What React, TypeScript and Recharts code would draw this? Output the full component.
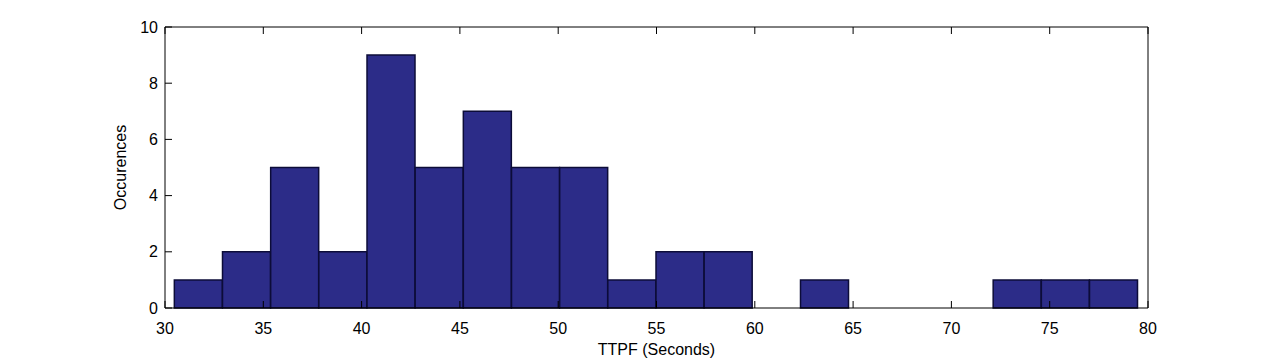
import { Bar, ComposedChart, Label, XAxis, YAxis } from "recharts";

// histogram bin centres (seconds) and counts per bin
const binCenters = [31.7, 34.15, 36.6, 39.05, 41.5, 43.95, 46.4, 48.85, 51.3, 53.75, 56.2, 58.65, 61.1, 63.55, 66.0, 68.45, 70.9, 73.35, 75.8, 78.25];
const counts = [1, 2, 5, 2, 9, 5, 7, 5, 5, 1, 2, 2, 0, 1, 0, 0, 0, 1, 1, 1];
const xTicks = [30, 35, 40, 45, 50, 55, 60, 65, 70, 75, 80];
const yTicks = [0, 2, 4, 6, 8, 10];

const data = binCenters.map((c, i) => ({ center: c, count: counts[i] }));

const FONT = "'Liberation Sans', Arial, sans-serif";
const TICK_LEN = 7;
const X_MARGIN = 15;
const Y_MARGIN = 7;

// MATLAB-style ticks: drawn inward from the axis line, label outside
function makeTick(orient: "bottom" | "top" | "left" | "right", label: boolean, margin: number) {
  return (props: any) => {
    const { x, y, payload } = props;
    let line: [number, number, number, number];
    if (orient === "bottom") line = [x, y - margin, x, y - margin - TICK_LEN];
    else if (orient === "top") line = [x, y + margin, x, y + margin + TICK_LEN];
    else if (orient === "left") line = [x + margin, y, x + margin + TICK_LEN, y];
    else line = [x - margin, y, x - margin - TICK_LEN, y];
    return (
      <g>
        <line x1={line[0]} y1={line[1]} x2={line[2]} y2={line[3]} stroke="#000" strokeWidth={1} />
        {label && (
          <text x={x} y={y} textAnchor={orient === "left" ? "end" : "middle"}
            dy={orient === "bottom" ? "0.71em" : "0.355em"} fontSize={16} fontFamily={FONT} fill="#000">
            {payload.value}
          </text>
        )}
      </g>
    );
  };
}

function YTitle({ viewBox }: any) {
  const cx = viewBox.x + viewBox.width - 45;
  const cy = viewBox.y + viewBox.height / 2;
  return (
    <text x={cx} y={cy} transform={`rotate(-90, ${cx}, ${cy})`} textAnchor="middle" dominantBaseline="central"
      fontSize={16} fontFamily={FONT} fill="#000">
      Occurences
    </text>
  );
}

export default function App() {
  return (
    <div style={{ position: "absolute", left: 0, top: 0, width: 1268, height: 359, background: "#fff" }}>
      <ComposedChart width={1268} height={359} data={data} margin={{ top: 26, right: 119, bottom: 0, left: 0 }}
        barCategoryGap={0} barGap={0}>
        <XAxis xAxisId="b" dataKey="center" type="number" domain={[30, 80]} ticks={xTicks} allowDataOverflow
          height={51} stroke="#000" tickLine={false} tickSize={0} tickMargin={X_MARGIN}
          tick={makeTick("bottom", true, X_MARGIN)} interval={0}>
          <Label value="TTPF (Seconds)" position="insideBottom" offset={4} fontSize={16} fontFamily={FONT} fill="#000" />
        </XAxis>
        <XAxis xAxisId="t" orientation="top" dataKey="center" type="number" domain={[30, 80]} ticks={xTicks}
          allowDataOverflow height={1} stroke="#000" tickLine={false} tickSize={0} tickMargin={0}
          tick={makeTick("top", false, 0)} interval={0} />
        <YAxis yAxisId="l" domain={[0, 10]} ticks={yTicks} width={165} stroke="#000" tickLine={false} tickSize={0}
          tickMargin={Y_MARGIN} tick={makeTick("left", true, Y_MARGIN)} interval={0} label={<YTitle />} />
        <YAxis yAxisId="r" orientation="right" domain={[0, 10]} ticks={yTicks} width={1} stroke="#000"
          tickLine={false} tickSize={0} tickMargin={0} tick={makeTick("right", false, 0)} interval={0} />
        <Bar xAxisId="b" yAxisId="l" dataKey="count" fill="#2c2c88" stroke="#0c0c38" strokeWidth={1.5}
          isAnimationActive={false} />
      </ComposedChart>
    </div>
  );
}
